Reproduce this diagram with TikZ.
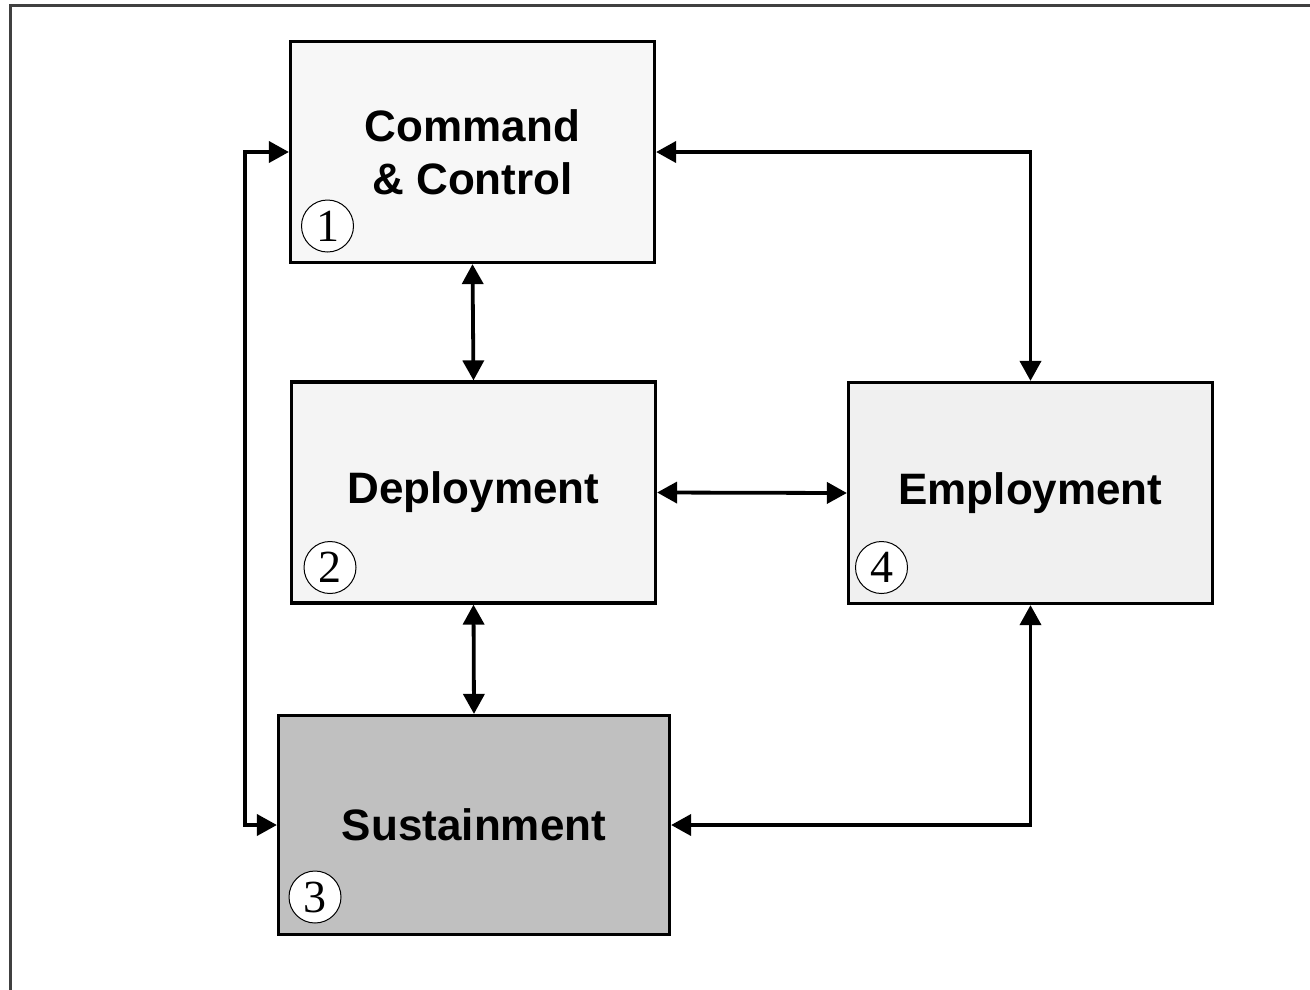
\documentclass[tikz,border=0pt]{standalone}
\usepackage{fontspec}
\setmainfont{Liberation Sans}
\newfontfamily\numfont{Liberation Serif}
\usetikzlibrary{arrows.meta}
\definecolor{framegray}{HTML}{404040}
\definecolor{fillA}{HTML}{F7F7F7}
\definecolor{fillB}{HTML}{F4F4F4}
\definecolor{fillC}{HTML}{F0F0F0}
\definecolor{fillD}{HTML}{C0C0C0}
\tikzset{
  box/.style={draw=black, line width=3.2pt, rectangle, inner sep=0pt,
    minimum width=364pt, minimum height=221pt, align=center,
    font=\fontsize{44}{53}\selectfont\bfseries},
  numcircle/.style={draw=black, line width=1pt, circle, fill=white,
    minimum size=52pt, inner sep=0pt, font=\fontsize{46}{46}\selectfont\numfont},
  link/.style={line width=3.8pt, {Triangle[length=20pt,width=21pt]}-{Triangle[length=20pt,width=21pt]}}
}
\begin{document}
\begin{tikzpicture}[x=1pt,y=-1pt]
\useasboundingbox (0,0) rectangle (1310,989);
\draw[framegray, line width=3pt] (10,995) -- (10,5) -- (1315,5);

\node[box, fill=fillA] (cc) at (472.5,152) {Command\\\& Control};
\node[box, fill=fillB] (dep) at (473.5,492.5) {Deployment};
\node[box, fill=fillC] (emp) at (1030.5,493) {Employment};
\node[box, fill=fillD, minimum width=391pt, minimum height=219pt] (sus) at (474,825) {Sustainment};

\node[numcircle] (n1) at (327.5,226) {1};
\node[numcircle] (n2) at (330,567.5) {2};
\node[numcircle] (n4) at (881.5,567.5) {4};
\node[numcircle] (n3) at (315,897) {3};

\coordinate (lt) at (245,152);
\coordinate (lb) at (245,825);

\draw[link] (cc.south) -- (dep.north);
\draw[link] (cc.east) -| (emp.north);
\draw[link] (dep.east) -- (emp.west);
\draw[link] (dep.south) -- (sus.north);
\draw[link] (emp.south) |- (sus.east);
\draw[link] (cc.west) -- (lt) -- (lb) -- (sus.west);
\end{tikzpicture}
\end{document}
